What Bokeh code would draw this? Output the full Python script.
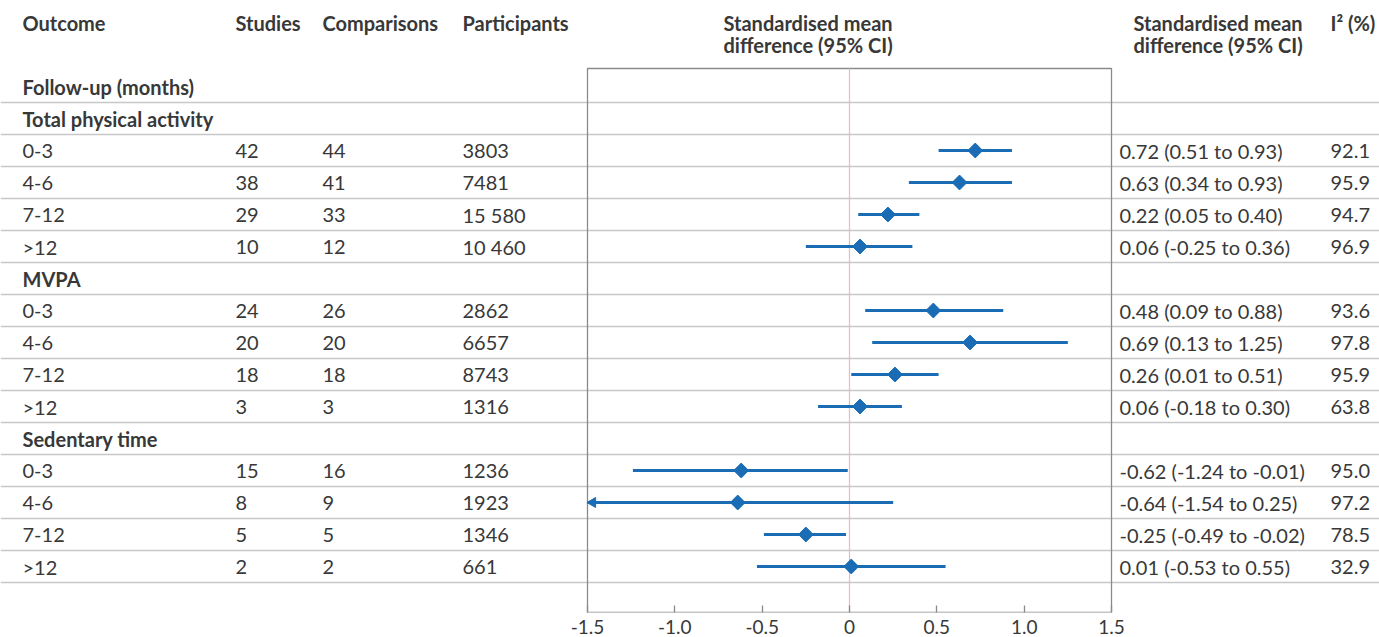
import math
from bokeh.plotting import figure
from bokeh.models import ColumnDataSource, Range1d, LinearAxis, FixedTicker
from bokeh.core.properties import value
from bokeh.embed import file_html
from bokeh.resources import INLINE

# ---------------- data ----------------
groups = ["Total physical activity", "MVPA", "Sedentary time"]
followups = ["0-3", "4-6", "7-12", ">12"]
studies = [42, 38, 29, 10, 24, 20, 18, 3, 15, 8, 5, 2]
comparisons = [44, 41, 33, 12, 26, 20, 18, 3, 16, 9, 5, 2]
participants = [3803, 7481, 15580, 10460, 2862, 6657, 8743, 1316, 1236, 1923, 1346, 661]
smd = [0.72, 0.63, 0.22, 0.06, 0.48, 0.69, 0.26, 0.06, -0.62, -0.64, -0.25, 0.01]
ci_lo = [0.51, 0.34, 0.05, -0.25, 0.09, 0.13, 0.01, -0.18, -1.24, -1.54, -0.49, -0.53]
ci_hi = [0.93, 0.93, 0.40, 0.36, 0.88, 1.25, 0.51, 0.30, -0.01, 0.25, -0.02, 0.55]
i2 = [92.1, 95.9, 94.7, 96.9, 93.6, 97.8, 95.9, 63.8, 95.0, 97.2, 78.5, 32.9]
tick_values = [-1.5, -1.0, -0.5, 0, 0.5, 1.0, 1.5]
tick_labels = ["-1.5", "-1.0", "-0.5", "0", "0.5", "1.0", "1.5"]
col_headers = ["Outcome", "Studies", "Comparisons", "Participants"]

# ---------------- layout constants ----------------
W, H = 1379, 637
BOTTOM = 25
FONT = "Lato"
FS = "20px"
TXT = "#383838"
BLUE = "#1a6db5"
XMIN, XMAX = -1.5, 1.5
box_left_px, box_right_px = 587, 1111
ppu = (box_right_px - box_left_px) / (XMAX - XMIN)
smd_start = XMIN - box_left_px / ppu
smd_end = XMAX + (W - box_right_px) / ppu
row_px = 32
first_row_px = 86
frame_h = H - BOTTOM
y_top = -first_row_px / row_px
y_bot = (frame_h - first_row_px) / row_px
box_top = (68 - first_row_px) / row_px

col_x = [22, 235, 322, 462]
ci_x, i2_x = 1119, 1330
hdr_mid_x, hdr_right_x = 723, 1133

# ---------------- rows ----------------
rows_label, rows_bold, rows_y = [], [], []
data_y = []
k = 0
rows_label.append("Follow-up (months)"); rows_bold.append(True); rows_y.append(k); k += 1
for g in groups:
    rows_label.append(g); rows_bold.append(True); rows_y.append(k); k += 1
    for f in followups:
        rows_label.append(f); rows_bold.append(False); rows_y.append(k)
        data_y.append(k); k += 1
n_rows = k

def fmt_n(n):
    return f"{n:,}".replace(",", " ") if n >= 10000 else str(n)

p = figure(width=W, height=H, output_backend="svg", toolbar_location=None,
           x_range=Range1d(0, W), y_range=Range1d(y_bot, y_top),
           min_border_left=0, min_border_right=0, min_border_top=0,
           min_border_bottom=BOTTOM)
p.extra_x_ranges = {"smd": Range1d(smd_start, smd_end)}
p.xaxis.visible = False
p.yaxis.visible = False
p.xgrid.visible = False
p.ygrid.visible = False
p.outline_line_color = None
p.background_fill_color = "white"
p.border_fill_color = "white"

# row separator lines
sep_y = [r + 0.5 for r in range(n_rows)]
p.hspan(y=sep_y, line_color="#c8c8c8", line_width=1.5)

# forest box
p.quad(left=[XMIN], right=[XMAX], top=[box_top], bottom=[y_bot], x_range_name="smd",
       fill_color=None, line_color="#8a8a8a", line_width=1.3)
p.segment(x0=[0], x1=[0], y0=[box_top], y1=[y_bot], x_range_name="smd",
          line_color="#f5b3bb", line_width=1.2)

# axis
ax = LinearAxis(x_range_name="smd", ticker=FixedTicker(ticks=tick_values))
ax.major_label_overrides = {t: l for t, l in zip(tick_values, tick_labels)}
ax.axis_line_color = None
ax.major_tick_in = 7
ax.major_tick_out = 0
ax.major_tick_line_color = "#8a8a8a"
ax.major_tick_line_width = 1.3
ax.minor_tick_line_color = None
ax.major_label_standoff = 7
ax.major_label_text_font = FONT
ax.major_label_text_font_size = "19px"
ax.major_label_text_color = TXT
p.add_layout(ax, "below")

# CIs
seg_lo = [max(l, XMIN) for l in ci_lo]
seg_hi = [min(h, XMAX) for h in ci_hi]
p.segment(x0=seg_lo, x1=seg_hi, y0=data_y, y1=data_y, x_range_name="smd",
          line_color=BLUE, line_width=2.8)
arrow_x = [XMIN + 0.03 for l in ci_lo if l < XMIN]
arrow_y = [y for l, y in zip(ci_lo, data_y) if l < XMIN]
p.scatter(x=arrow_x, y=arrow_y, marker="triangle", angle=math.pi / 2, size=10,
          x_range_name="smd", fill_color=BLUE, line_color=BLUE)
p.scatter(x=smd, y=data_y, marker="square", angle=math.pi / 4, size=10.5,
          x_range_name="smd", fill_color=BLUE, line_color=BLUE, line_width=1)

# text helpers
def txt(xs, ys, texts, bold=False):
    src = ColumnDataSource(dict(x=xs, y=ys, t=texts))
    p.text(x="x", y="y", text="t", source=src, text_font=value(FONT),
           text_font_size=FS, text_color=TXT, text_baseline="middle",
           text_align="left", text_font_style="bold" if bold else "normal")

# headers
h1 = -2.0
h2 = -1.3125
txt(col_x, [h1] * 4, col_headers, bold=True)
txt([hdr_mid_x, hdr_mid_x, hdr_right_x, hdr_right_x, i2_x],
    [h1, h2, h1, h2, h1],
    ["Standardised mean", "difference (95% CI)", "Standardised mean",
     "difference (95% CI)", "I\u00b2 (%)"], bold=True)

# row labels
txt([col_x[0]] * sum(rows_bold), [y for y, b in zip(rows_y, rows_bold) if b],
    [l for l, b in zip(rows_label, rows_bold) if b], bold=True)
txt([col_x[0]] * len(data_y), data_y,
    [l for l, b in zip(rows_label, rows_bold) if not b])
txt([col_x[1]] * len(data_y), data_y, [str(v) for v in studies])
txt([col_x[2]] * len(data_y), data_y, [str(v) for v in comparisons])
txt([col_x[3]] * len(data_y), data_y, [fmt_n(v) for v in participants])
txt([ci_x] * len(data_y), data_y,
    [f"{m:.2f} ({l:.2f} to {h:.2f})" for m, l, h in zip(smd, ci_lo, ci_hi)])
txt([i2_x] * len(data_y), data_y, [f"{v:.1f}" for v in i2])

open("out.html", "w").write(file_html(p, INLINE))
